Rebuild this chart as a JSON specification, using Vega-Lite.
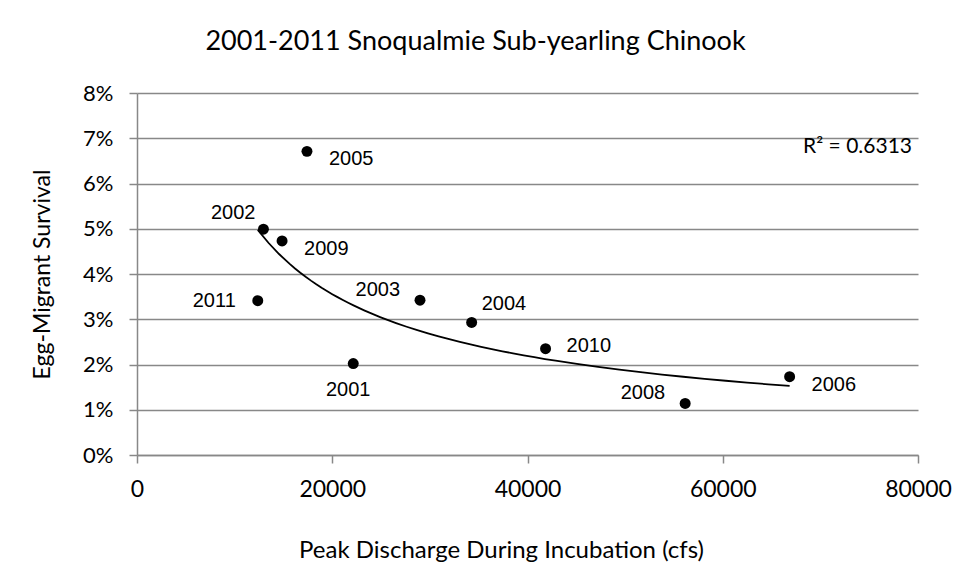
{
  "$schema": "https://vega.github.io/schema/vega-lite/v6.json",
  "width": 781,
  "height": 362,
  "autosize": "none",
  "padding": {"left": 137, "top": 93, "right": 51, "bottom": 129},
  "background": "white",
  "title": {
    "text": "2001-2011 Snoqualmie Sub-yearling Chinook",
    "font": "Lato",
    "fontSize": 27,
    "fontWeight": "normal",
    "color": "#000000",
    "anchor": "middle",
    "frame": "group",
    "dx": -52,
    "offset": 26
  },
  "datasets": {
    "pts": [
      {"year": "2001", "discharge": 22150, "survival": 0.0202},
      {"year": "2002", "discharge": 12950, "survival": 0.0499},
      {"year": "2003", "discharge": 28990, "survival": 0.0342},
      {"year": "2004", "discharge": 34280, "survival": 0.0293},
      {"year": "2005", "discharge": 17410, "survival": 0.0671},
      {"year": "2006", "discharge": 66850, "survival": 0.0173},
      {"year": "2008", "discharge": 56150, "survival": 0.0114},
      {"year": "2009", "discharge": 14860, "survival": 0.0473},
      {"year": "2010", "discharge": 41850, "survival": 0.0235},
      {"year": "2011", "discharge": 12370, "survival": 0.0341}
    ]
  },
  "data": {"name": "pts"},
  "config": {
    "view": {"stroke": null},
    "axis": {
      "labelFont": "Lato",
      "titleFont": "Lato",
      "labelColor": "#000000",
      "titleColor": "#000000",
      "titleFontWeight": "normal",
      "domainColor": "#888888",
      "tickColor": "#888888",
      "gridColor": "#888888",
      "gridWidth": 1.5,
      "domainWidth": 1.5,
      "tickWidth": 1.5
    }
  },
  "layer": [
    {
      "mark": {"type": "point", "filled": true, "color": "#000000", "opacity": 1, "size": 120},
      "encoding": {
        "x": {
          "field": "discharge",
          "type": "quantitative",
          "scale": {"domain": [0, 80000], "nice": false, "zero": true},
          "axis": {
            "title": "Peak Discharge During Incubation (cfs)",
            "values": [0, 20000, 40000, 60000, 80000],
            "format": "d",
            "grid": false,
            "tickSize": 8,
            "labelPadding": 15,
            "labelFontSize": 23,
            "titleFontSize": 24,
            "titlePadding": 37,
            "titleX": 364,
            "titleAlign": "center",
            "labelFlush": false
          }
        },
        "y": {
          "field": "survival",
          "type": "quantitative",
          "scale": {"domain": [0, 0.08], "nice": false},
          "axis": {
            "title": "Egg-Migrant Survival",
            "values": [0, 0.01, 0.02, 0.03, 0.04, 0.05, 0.06, 0.07, 0.08],
            "format": ".0%",
            "grid": true,
            "tickSize": 8,
            "labelPadding": 16,
            "labelFontSize": 22,
            "titleFontSize": 23,
            "titlePadding": 28,
            "labelFlush": false
          }
        }
      }
    },
    {
      "transform": [{"regression": "survival", "on": "discharge", "method": "pow"}],
      "mark": {"type": "line", "color": "#000000", "strokeWidth": 1.8},
      "encoding": {
        "x": {"field": "discharge", "type": "quantitative"},
        "y": {"field": "survival", "type": "quantitative"}
      }
    },
    {
      "transform": [{"filter": {"field": "year", "oneOf": ["2005", "2009", "2006"]}}],
      "mark": {"type": "text", "align": "left", "baseline": "middle", "font": "Liberation Sans", "fontSize": 20, "dx": 22, "dy": 8},
      "encoding": {
        "x": {"field": "discharge", "type": "quantitative"},
        "y": {"field": "survival", "type": "quantitative"},
        "text": {"field": "year"}
      }
    },
    {
      "transform": [{"filter": {"field": "year", "equal": "2010"}}],
      "mark": {"type": "text", "align": "left", "baseline": "middle", "font": "Liberation Sans", "fontSize": 20, "dx": 21, "dy": -3},
      "encoding": {
        "x": {"field": "discharge", "type": "quantitative"},
        "y": {"field": "survival", "type": "quantitative"},
        "text": {"field": "year"}
      }
    },
    {
      "transform": [{"filter": {"field": "year", "equal": "2004"}}],
      "mark": {"type": "text", "align": "left", "baseline": "middle", "font": "Liberation Sans", "fontSize": 20, "dx": 10, "dy": -18},
      "encoding": {
        "x": {"field": "discharge", "type": "quantitative"},
        "y": {"field": "survival", "type": "quantitative"},
        "text": {"field": "year"}
      }
    },
    {
      "transform": [{"filter": {"field": "year", "oneOf": ["2003", "2008"]}}],
      "mark": {"type": "text", "align": "right", "baseline": "middle", "font": "Liberation Sans", "fontSize": 20, "dx": -20, "dy": -10},
      "encoding": {
        "x": {"field": "discharge", "type": "quantitative"},
        "y": {"field": "survival", "type": "quantitative"},
        "text": {"field": "year"}
      }
    },
    {
      "transform": [{"filter": {"field": "year", "equal": "2011"}}],
      "mark": {"type": "text", "align": "right", "baseline": "middle", "font": "Liberation Sans", "fontSize": 20, "dx": -22, "dy": 0},
      "encoding": {
        "x": {"field": "discharge", "type": "quantitative"},
        "y": {"field": "survival", "type": "quantitative"},
        "text": {"field": "year"}
      }
    },
    {
      "transform": [{"filter": {"field": "year", "equal": "2002"}}],
      "mark": {"type": "text", "align": "right", "baseline": "middle", "font": "Liberation Sans", "fontSize": 20, "dx": -8, "dy": -16},
      "encoding": {
        "x": {"field": "discharge", "type": "quantitative"},
        "y": {"field": "survival", "type": "quantitative"},
        "text": {"field": "year"}
      }
    },
    {
      "transform": [{"filter": {"field": "year", "equal": "2001"}}],
      "mark": {"type": "text", "align": "center", "baseline": "middle", "font": "Liberation Sans", "fontSize": 20, "dx": -5, "dy": 26},
      "encoding": {
        "x": {"field": "discharge", "type": "quantitative"},
        "y": {"field": "survival", "type": "quantitative"},
        "text": {"field": "year"}
      }
    },
    {
      "data": {"values": [{"label": "R² = 0.6313", "x": 80000, "y": 0.068}]},
      "mark": {"type": "text", "align": "right", "baseline": "middle", "font": "Lato", "fontSize": 21, "dx": -6},
      "encoding": {
        "x": {"field": "x", "type": "quantitative"},
        "y": {"field": "y", "type": "quantitative"},
        "text": {"field": "label"}
      }
    }
  ]
}
